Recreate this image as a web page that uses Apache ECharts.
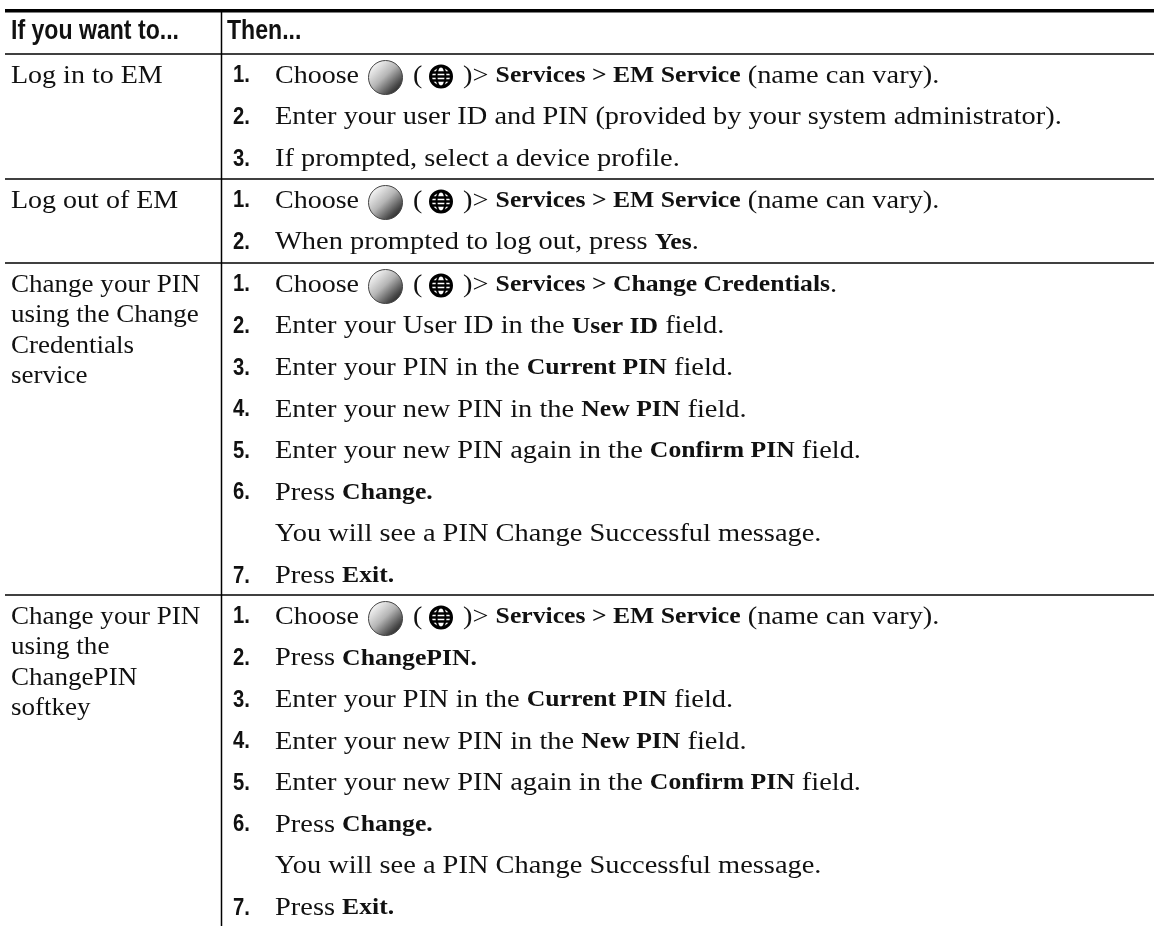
<!DOCTYPE html>
<html>
<head>
<meta charset="utf-8">
<title>EM and PIN tasks</title>
<script src="https://cdn.jsdelivr.net/npm/echarts@6/dist/echarts.min.js"></script>
<style>
  html, body { margin: 0; padding: 0; background: #fff; }
  #main { width: 1154px; height: 926px; }
</style>
</head>
<body>
<div id="main"></div>
<script>
const headers = ['If you want to...', 'Then...']

const taskLabels = [
  ['Log in to EM'],
  ['Log out of EM'],
  ['Change your PIN', 'using the Change', 'Credentials', 'service'],
  ['Change your PIN', 'using the', 'ChangePIN', 'softkey']
]

// [step number, text]. MENU steps get the ball + globe icons before the text
const MENU = '#menu#'
const loginSteps = [
  ['1.', MENU + '{b|Services > EM Service} (name can vary).'],
  ['2.', 'Enter your user ID and PIN (provided by your system administrator).'],
  ['3.', 'If prompted, select a device profile.']
]
const logoutSteps = [
  ['1.', MENU + '{b|Services > EM Service} (name can vary).'],
  ['2.', 'When prompted to log out, press {b|Yes}.']
]
const credentialSteps = [
  ['1.', MENU + '{b|Services > Change Credentials}.'],
  ['2.', 'Enter your User ID in the {b|User ID} field.'],
  ['3.', 'Enter your PIN in the {b|Current PIN} field.'],
  ['4.', 'Enter your new PIN in the {b|New PIN} field.'],
  ['5.', 'Enter your new PIN again in the {b|Confirm PIN} field.'],
  ['6.', 'Press {b|Change.}'],
  ['', 'You will see a PIN Change Successful message.'],
  ['7.', 'Press {b|Exit.}']
]
const softkeySteps = [
  ['1.', MENU + '{b|Services > EM Service} (name can vary).'],
  ['2.', 'Press {b|ChangePIN.}'],
  ['3.', 'Enter your PIN in the {b|Current PIN} field.'],
  ['4.', 'Enter your new PIN in the {b|New PIN} field.'],
  ['5.', 'Enter your new PIN again in the {b|Confirm PIN} field.'],
  ['6.', 'Press {b|Change.}'],
  ['', 'You will see a PIN Change Successful message.'],
  ['7.', 'Press {b|Exit.}']
]
const rowSteps = [loginSteps, logoutSteps, credentialSteps, softkeySteps]

// layout of the table, in axis units (the axes run over the page)
const layout = {
  left: 5,
  right: 1154,
  topRule: 10.75,
  divider: 221.5,
  ruleY: [54, 179, 263, 595],
  taskX: 11,
  thenX: 227,
  numX: 233,
  stepX: 275,
  headerY: 32,
  firstLine: 22,
  stepPitch: 41.6,
  taskPitch: 30.5,
  afterIcons: 463
}

const serif = '"Liberation Serif", serif'
const sans = '"Liberation Sans", sans-serif'
const bodyFont = { font: '26px ' + serif, scale: 1.093 }
const taskFont = { font: '26px ' + serif, scale: 1.077 }
const tightFont = { font: '26px ' + serif, scale: 1.04 }
const numFont = { font: 'bold 23px ' + sans, scale: 0.88 }
const headFont = { font: 'bold 27px ' + sans, scale: 0.855 }
const richStyles = { b: { font: 'bold 23.5px ' + serif, fill: '#111' } }

const textLines = []
const iconLines = []
function pushText(x, y, text, f) {
  textLines.push({ value: [x, y], text, font: f.font, scale: f.scale })
}
headers.forEach((h, i) => pushText(i ? layout.thenX : layout.taskX, layout.headerY, h, headFont))
rowSteps.forEach((steps, r) => {
  const top = layout.ruleY[r] + layout.firstLine
  const labels = taskLabels[r]
  labels.forEach((t, i) => {
    pushText(layout.taskX, top + i * layout.taskPitch, t, labels.length > 1 ? tightFont : taskFont)
  })
  steps.forEach((s, i) => {
    const y = top + i * layout.stepPitch
    if (s[0]) pushText(layout.numX, y, s[0], numFont)
    if (s[1].startsWith(MENU)) {
      pushText(layout.stepX, y, 'Choose', taskFont)
      pushText(layout.stepX + 138, y, '(', taskFont)
      pushText(layout.afterIcons, y, ')> ' + s[1].slice(MENU.length), bodyFont)
      iconLines.push([y])
    } else {
      pushText(layout.stepX, y, s[1], bodyFont)
    }
  })
})

// rules: x1, y1, x2, y2, width
const ruleLines = [
  [layout.left, layout.topRule, layout.right, layout.topRule, 3.5],
  [layout.divider, layout.topRule, layout.divider, 926, 1.5]
].concat(layout.ruleY.map(y => [layout.left, y, layout.right, y, 1.5]))

const chart = echarts.init(document.getElementById('main'))
chart.setOption({
  animation: false,
  backgroundColor: '#fff',
  grid: { left: 0, right: 0, top: 0, bottom: 0 },
  xAxis: { type: 'value', min: 0, max: 1154, show: false },
  yAxis: { type: 'value', min: 0, max: 926, inverse: true, show: false },
  series: [
    {
      type: 'custom',
      silent: true,
      data: ruleLines,
      renderItem(params, api) {
        const a = api.coord([api.value(0), api.value(1)])
        const b = api.coord([api.value(2), api.value(3)])
        return {
          type: 'line',
          shape: { x1: a[0], y1: a[1], x2: b[0], y2: b[1] },
          style: { stroke: '#000', lineWidth: api.value(4) }
        }
      }
    },
    {
      type: 'custom',
      silent: true,
      data: iconLines.map(l => [layout.stepX + 110.5, l[0] + 1.5, layout.stepX + 166, l[0] + 0.5]),
      renderItem(params, api) {
        const ball = api.coord([api.value(0), api.value(1)])
        const globe = api.coord([api.value(2), api.value(3)])
        const r = 10.5
        const bar = (dy) => ({
          type: 'line',
          shape: { x1: globe[0] - r, y1: globe[1] + dy, x2: globe[0] + r, y2: globe[1] + dy },
          style: { stroke: '#000', lineWidth: 2.5 }
        })
        return {
          type: 'group',
          children: [
            {
              type: 'circle',
              shape: { cx: ball[0], cy: ball[1], r: 17 },
              style: {
                stroke: '#444',
                lineWidth: 1,
                fill: new echarts.graphic.LinearGradient(0.1, 0.1, 0.9, 0.95, [
                  { offset: 0, color: '#ffffff' },
                  { offset: 0.45, color: '#b5b5b5' },
                  { offset: 0.8, color: '#4a4a4a' },
                  { offset: 1, color: '#1a1a1a' }
                ])
              }
            },
            {
              type: 'circle',
              shape: { cx: globe[0], cy: globe[1], r },
              style: { stroke: '#000', lineWidth: 3, fill: '#fff' }
            },
            {
              type: 'ellipse',
              shape: { cx: globe[0], cy: globe[1], rx: 4.5, ry: r },
              style: { stroke: '#000', lineWidth: 2, fill: 'none' }
            },
            bar(-4), bar(0), bar(4)
          ]
        }
      }
    },
    {
      type: 'custom',
      silent: true,
      data: textLines,
      renderItem(params, api) {
        const line = textLines[params.dataIndex]
        const p = api.coord([api.value(0), api.value(1)])
        return {
          type: 'text',
          x: p[0],
          y: p[1],
          scaleX: line.scale,
          style: {
            x: 0,
            y: 0,
            text: line.text,
            font: line.font,
            fill: '#111',
            verticalAlign: 'middle',
            rich: richStyles
          }
        }
      }
    }
  ]
})
</script>
</body>
</html>
